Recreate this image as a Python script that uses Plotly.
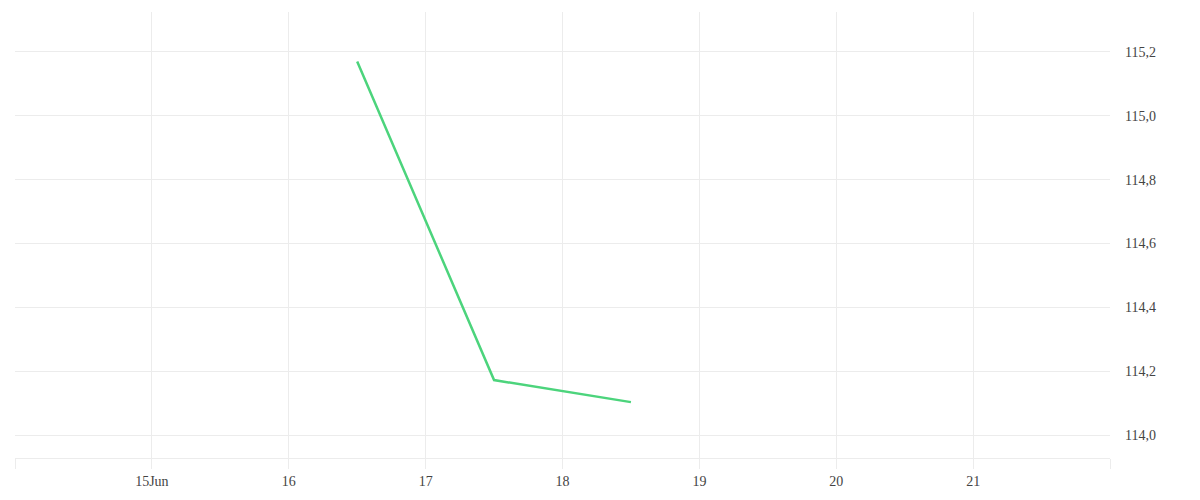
import plotly.graph_objects as go

dates = ["2024-06-16 12:00", "2024-06-17 12:00", "2024-06-18 12:00"]
values = [115.17, 114.172, 114.103]
tick_dates = ["2024-06-14", "2024-06-15", "2024-06-16", "2024-06-17", "2024-06-18",
              "2024-06-19", "2024-06-20", "2024-06-21", "2024-06-22"]
tick_text = ["", "15Jun", "16", "17", "18", "19", "20", "21", ""]
y_ticks = [114.0, 114.2, 114.4, 114.6, 114.8, 115.0, 115.2]

fig = go.Figure()
fig.add_trace(go.Scatter(x=dates, y=values, mode="lines",
                         line=dict(color="#4cd47c", width=2.5),
                         showlegend=False))

grid = "#ececec"
gap = 14
plot_w = 1200 - 7 - (98 - gap)
fig.update_layout(
    width=1200, height=500,
    margin=dict(l=7, r=98 - gap, t=4, b=50),
    paper_bgcolor="white", plot_bgcolor="white",
    separators=",.",
    font=dict(family="Liberation Serif, serif", size=14, color="#444444"),
    xaxis=dict(type="date", range=["2024-06-14", "2024-06-22"],
               domain=[0, (plot_w - gap) / plot_w],
               tickvals=tick_dates, ticktext=tick_text,
               showgrid=True, gridcolor=grid, gridwidth=1,
               ticks="outside", ticklen=10, tickcolor=grid, tickwidth=1,
               showline=True, linecolor=grid, linewidth=1,
               zeroline=False, tickfont=dict(color="#444444")),
    yaxis=dict(side="right", range=[113.928, 115.325],
               anchor="free", position=1.0,
               tickvals=y_ticks, tickformat=".1f",
               showgrid=True, gridcolor=grid, gridwidth=1,
               zeroline=False, showline=False, ticks="",
               tickfont=dict(color="#444444")),
)

fig.write_html("out.html")
